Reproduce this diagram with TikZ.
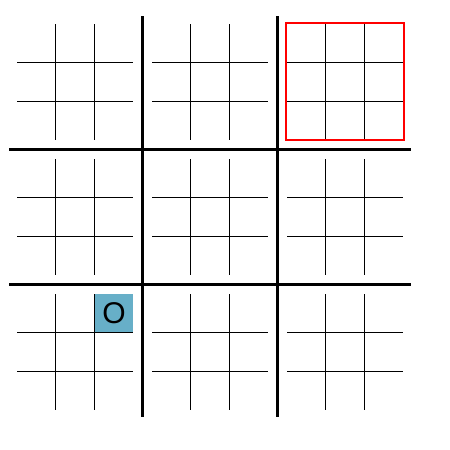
\documentclass[tikz,border=0pt]{standalone}
\usepackage{fontspec}
\setmainfont{Liberation Sans}
\definecolor{cellblue}{HTML}{67AFC8}
\definecolor{winred}{HTML}{FF0000}
\begin{document}
\begin{tikzpicture}[x=1pt,y=-1pt,
  thin line/.style={line width=1pt,black},
  thick line/.style={line width=3pt,black},
  marked/.style={fill=cellblue,draw=none},
  winbox/.style={draw=winred,line width=2pt}]
\useasboundingbox (0,0) rectangle (450,450);
% highlighted cell
\fill[marked] (95,294) rectangle (133,332);
\node[font=\fontsize{30}{30}\selectfont,inner sep=0pt] (o) at (114,313.5) {O};
% small grids
\foreach \i in {0,1,2}{
  \foreach \j in {0,1,2}{
    \begin{scope}[shift={(135*\i,135*\j)}]
      \draw[thin line] (55.5,24) -- (55.5,139.5);
      \draw[thin line] (94.5,24) -- (94.5,139.5);
      \draw[thin line] (17,62.5) -- (133,62.5);
      \draw[thin line] (17,101.5) -- (133,101.5);
    \end{scope}
  }
}
% big grid
\draw[thick line] (142.5,16) -- (142.5,417);
\draw[thick line] (277.5,16) -- (277.5,417);
\draw[thick line] (9,149.5) -- (411,149.5);
\draw[thick line] (9,284.5) -- (411,284.5);
% won board
\draw[winbox] (286,23) rectangle (404,140.3);
\end{tikzpicture}
\end{document}
